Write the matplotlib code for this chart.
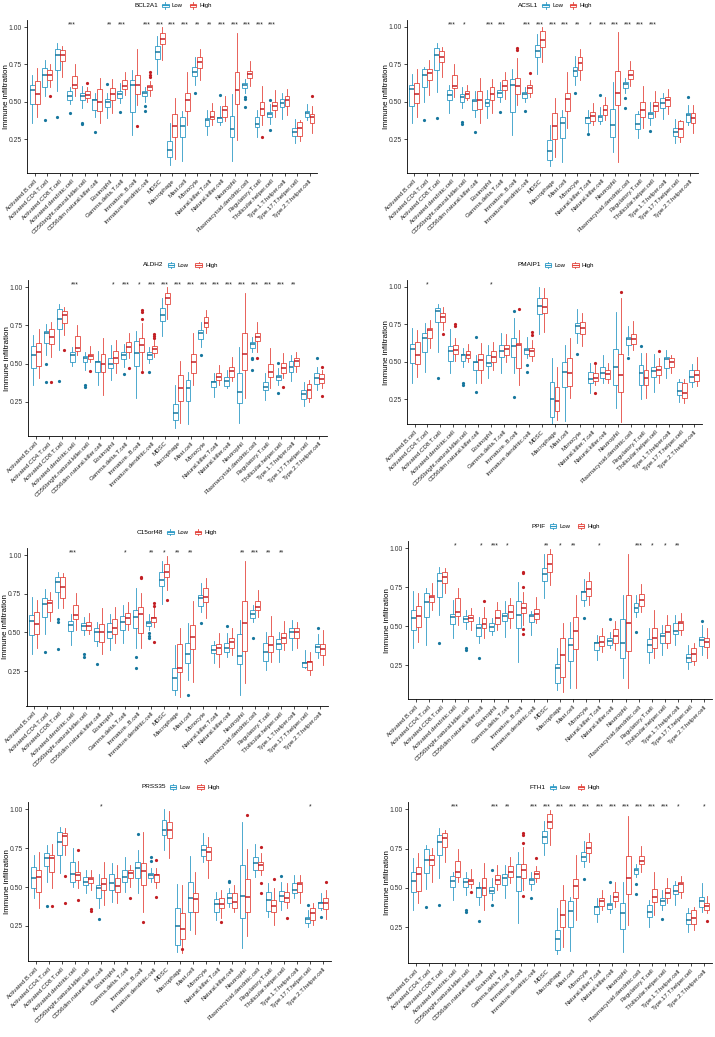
import numpy as np
import matplotlib
matplotlib.use("Agg")
import matplotlib.pyplot as plt
from matplotlib.patches import Rectangle
from matplotlib.lines import Line2D
from matplotlib.legend_handler import HandlerBase

plt.rcParams['font.family'] = ['Liberation Sans', 'DejaVu Sans']

CELLS = ["Activated.B.cell", "Activated.CD4.T.cell", "Activated.CD8.T.cell",
         "Activated.dendritic.cell", "CD56bright.natural.killer.cell",
         "CD56dim.natural.killer.cell", "Eosinophil", "Gamma.delta.T.cell",
         "Immature..B.cell", "Immature.dendritic.cell", "MDSC", "Macrophage",
         "Mast.cell", "Monocyte", "Natural.killer.T.cell", "Natural.killer.cell",
         "Neutrophil", "Plasmacytoid.dendritic.cell", "Regulatory.T.cell",
         "T.follicular.helper.cell", "Type.1.T.helper.cell",
         "Type.17.T.helper.cell", "Type.2.T.helper.cell"]

# box stats per cell: (whisker low, q1, median, q3, whisker high)
BCL2A1_LOW = [(0.357, 0.484, 0.58, 0.614, 0.68), (0.536, 0.598, 0.68, 0.725, 0.78),
              (0.57, 0.714, 0.81, 0.853, 0.89), (0.487, 0.513, 0.536, 0.57, 0.60),
              (0.458, 0.51, 0.536, 0.56, 0.607), (0.40, 0.446, 0.513, 0.518, 0.56),
              (0.39, 0.464, 0.498, 0.518, 0.558), (0.49, 0.525, 0.554, 0.57, 0.625),
              (0.28, 0.43, 0.61, 0.647, 0.714), (0.50, 0.536, 0.556, 0.57, 0.60),
              (0.687, 0.786, 0.833, 0.87, 0.94), (0.078, 0.127, 0.174, 0.234, 0.357),
              (0.10, 0.261, 0.34, 0.397, 0.435), (0.614, 0.674, 0.70, 0.73, 0.80),
              (0.28, 0.335, 0.38, 0.39, 0.446), (0.342, 0.364, 0.39, 0.40, 0.469),
              (0.10, 0.263, 0.317, 0.406, 0.554), (0.558, 0.59, 0.614, 0.625, 0.654),
              (0.261, 0.328, 0.35, 0.397, 0.446), (0.35, 0.397, 0.417, 0.43, 0.487),
              (0.386, 0.464, 0.49, 0.518, 0.56), (0.223, 0.272, 0.297, 0.324, 0.386),
              (0.375, 0.40, 0.424, 0.44, 0.485)]
BCL2A1_HIGH = [(0.40, 0.484, 0.554, 0.636, 0.725), (0.60, 0.647, 0.68, 0.71, 0.75),
               (0.665, 0.77, 0.81, 0.848, 0.87), (0.536, 0.59, 0.614, 0.674, 0.75),
               (0.50, 0.525, 0.547, 0.57, 0.60), (0.357, 0.44, 0.50, 0.585, 0.66),
               (0.424, 0.51, 0.554, 0.59, 0.654), (0.547, 0.585, 0.607, 0.643, 0.70),
               (0.475, 0.55, 0.61, 0.68, 0.853), (0.536, 0.58, 0.598, 0.614, 0.636),
               (0.78, 0.888, 0.92, 0.96, 1.0), (0.116, 0.261, 0.335, 0.42, 0.525),
               (0.346, 0.44, 0.513, 0.558, 0.70), (0.647, 0.725, 0.763, 0.80, 0.85),
               (0.346, 0.386, 0.40, 0.435, 0.49), (0.368, 0.40, 0.446, 0.473, 0.536),
               (0.245, 0.484, 0.58, 0.70, 0.96), (0.607, 0.658, 0.685, 0.708, 0.775),
               (0.345, 0.413, 0.45, 0.496, 0.607), (0.40, 0.446, 0.473, 0.50, 0.576),
               (0.41, 0.473, 0.513, 0.536, 0.585), (0.234, 0.268, 0.324, 0.362, 0.38),
               (0.29, 0.357, 0.395, 0.42, 0.469)]
BCL2A1_LOW_OUT = {1: [0.38], 2: [0.395], 3: [0.424], 4: [0.36, 0.35], 5: [0.297],
                  6: [0.62], 7: [0.43], 9: [0.47, 0.44], 13: [0.558], 15: [0.542],
                  17: [0.53, 0.52, 0.464], 19: [0.51, 0.308]}
BCL2A1_HIGH_OUT = {1: [0.54], 4: [0.625], 8: [0.34], 9: [0.696, 0.68, 0.665],
                   18: [0.263], 22: [0.536]}
BCL2A1_SIG = {3: "***", 6: "**", 7: "***", 9: "***", 10: "***", 11: "***", 12: "***",
              13: "**", 14: "**", 15: "***", 16: "***", 17: "***", 18: "***", 19: "***"}

ACSL1_LOW = [(0.357, 0.472, 0.583, 0.612, 0.685), (0.50, 0.596, 0.678, 0.716, 0.734),
             (0.567, 0.712, 0.81, 0.856, 0.89), (0.423, 0.512, 0.545, 0.578, 0.612),
             (0.456, 0.50, 0.534, 0.55, 0.596), (0.40, 0.445, 0.507, 0.516, 0.574),
             (0.39, 0.472, 0.49, 0.516, 0.578), (0.50, 0.534, 0.556, 0.578, 0.634),
             (0.279, 0.43, 0.612, 0.652, 0.716), (0.50, 0.527, 0.552, 0.567, 0.596),
             (0.685, 0.796, 0.838, 0.878, 0.95), (0.075, 0.112, 0.175, 0.245, 0.345),
             (0.10, 0.257, 0.357, 0.40, 0.445), (0.612, 0.672, 0.705, 0.734, 0.805),
             (0.30, 0.361, 0.39, 0.40, 0.445), (0.352, 0.374, 0.396, 0.412, 0.467),
             (0.168, 0.263, 0.345, 0.452, 0.634), (0.56, 0.594, 0.618, 0.63, 0.656),
             (0.257, 0.319, 0.352, 0.416, 0.439), (0.345, 0.394, 0.416, 0.434, 0.50),
             (0.385, 0.456, 0.49, 0.523, 0.56), (0.223, 0.272, 0.30, 0.323, 0.385),
             (0.345, 0.368, 0.412, 0.423, 0.479)]
ACSL1_HIGH = [(0.40, 0.49, 0.55, 0.627, 0.72), (0.545, 0.645, 0.694, 0.716, 0.778),
              (0.667, 0.767, 0.80, 0.838, 0.867), (0.534, 0.59, 0.605, 0.678, 0.75),
              (0.512, 0.527, 0.55, 0.572, 0.612), (0.361, 0.45, 0.512, 0.574, 0.66),
              (0.423, 0.512, 0.55, 0.60, 0.652), (0.518, 0.578, 0.605, 0.645, 0.70),
              (0.479, 0.55, 0.605, 0.656, 0.789), (0.534, 0.56, 0.59, 0.612, 0.645),
              (0.767, 0.862, 0.911, 0.971, 1.0), (0.13, 0.25, 0.339, 0.423, 0.523),
              (0.323, 0.439, 0.516, 0.556, 0.70), (0.645, 0.712, 0.76, 0.796, 0.849),
              (0.345, 0.374, 0.408, 0.434, 0.49), (0.379, 0.412, 0.445, 0.479, 0.534),
              (0.10, 0.479, 0.56, 0.705, 0.962), (0.605, 0.652, 0.678, 0.712, 0.774),
              (0.323, 0.396, 0.445, 0.496, 0.605), (0.40, 0.439, 0.472, 0.50, 0.574),
              (0.419, 0.472, 0.512, 0.53, 0.583), (0.234, 0.268, 0.317, 0.372, 0.379),
              (0.29, 0.361, 0.39, 0.423, 0.479)]
ACSL1_LOW_OUT = {1: [0.379], 2: [0.394], 4: [0.363, 0.352], 5: [0.297], 7: [0.43],
                 9: [0.44], 13: [0.556], 14: [0.283], 15: [0.545], 17: [0.527, 0.461],
                 19: [0.306], 22: [0.534]}
ACSL1_HIGH_OUT = {8: [0.856, 0.845], 9: [0.694]}
ACSL1_SIG = {3: "***", 4: "*", 6: "***", 7: "***", 9: "***", 10: "***", 11: "***",
             12: "***", 13: "**", 14: "*", 15: "***", 16: "***", 17: "***", 18: "***",
             19: "***"}

ALDH2_LOW = [(0.359, 0.473, 0.556, 0.617, 0.687), (0.556, 0.633, 0.698, 0.713, 0.757),
             (0.589, 0.727, 0.79, 0.858, 0.888), (0.484, 0.508, 0.556, 0.574, 0.611),
             (0.458, 0.508, 0.534, 0.552, 0.578), (0.359, 0.447, 0.508, 0.517, 0.582),
             (0.392, 0.469, 0.495, 0.534, 0.622), (0.48, 0.53, 0.556, 0.574, 0.626),
             (0.272, 0.484, 0.567, 0.65, 0.713), (0.501, 0.53, 0.556, 0.574, 0.611),
             (0.683, 0.779, 0.818, 0.867, 0.928), (0.075, 0.13, 0.173, 0.232, 0.359),
             (0.101, 0.257, 0.337, 0.392, 0.447), (0.611, 0.661, 0.698, 0.72, 0.775),
             (0.283, 0.344, 0.381, 0.388, 0.436), (0.337, 0.355, 0.386, 0.41, 0.458),
             (0.108, 0.239, 0.316, 0.436, 0.611), (0.578, 0.60, 0.626, 0.639, 0.676),
             (0.261, 0.326, 0.348, 0.381, 0.436), (0.359, 0.392, 0.41, 0.425, 0.469),
             (0.388, 0.447, 0.48, 0.517, 0.556), (0.224, 0.267, 0.298, 0.326, 0.381),
             (0.326, 0.364, 0.403, 0.436, 0.48)]
ALDH2_HIGH = [(0.403, 0.486, 0.574, 0.633, 0.727), (0.545, 0.628, 0.676, 0.727, 0.775),
              (0.687, 0.764, 0.818, 0.847, 0.873), (0.556, 0.582, 0.604, 0.681, 0.753),
              (0.512, 0.53, 0.55, 0.563, 0.617), (0.294, 0.442, 0.497, 0.56, 0.665),
              (0.436, 0.501, 0.539, 0.582, 0.654), (0.534, 0.578, 0.611, 0.639, 0.698),
              (0.458, 0.578, 0.622, 0.665, 0.764), (0.545, 0.571, 0.595, 0.615, 0.654),
              (0.792, 0.888, 0.932, 0.965, 1.0), (0.108, 0.257, 0.337, 0.425, 0.517),
              (0.359, 0.436, 0.512, 0.56, 0.698), (0.698, 0.742, 0.764, 0.803, 0.851),
              (0.359, 0.392, 0.414, 0.436, 0.49), (0.386, 0.414, 0.451, 0.48, 0.545),
              (0.272, 0.458, 0.56, 0.703, 0.965), (0.578, 0.648, 0.676, 0.703, 0.775),
              (0.337, 0.41, 0.447, 0.497, 0.604), (0.403, 0.436, 0.469, 0.501, 0.567),
              (0.447, 0.484, 0.519, 0.534, 0.578), (0.246, 0.272, 0.326, 0.364, 0.392),
              (0.337, 0.37, 0.399, 0.431, 0.458)]
ALDH2_LOW_OUT = {1: [0.495, 0.377], 2: [0.388], 4: [0.36, 0.348], 7: [0.431], 9: [0.442],
                 13: [0.556], 17: [0.534, 0.528, 0.458], 19: [0.501, 0.309], 22: [0.534]}
ALDH2_HIGH_OUT = {1: [0.377], 2: [0.587], 4: [0.453], 7: [0.469],
                  8: [0.851, 0.84, 0.79, 0.447], 9: [0.694, 0.683, 0.67], 17: [0.534],
                  19: [0.348], 22: [0.48, 0.289]}
ALDH2_SIG = {3: "***", 6: "*", 7: "***", 8: "*", 9: "***", 10: "***", 11: "***",
             12: "***", 13: "***", 14: "***", 15: "***", 16: "***", 17: "***",
             18: "***", 19: "***", 20: "**"}

PMAIP1_LOW = [(0.357, 0.49, 0.583, 0.616, 0.727), (0.434, 0.563, 0.66, 0.689, 0.756),
              (0.567, 0.767, 0.838, 0.856, 0.882), (0.423, 0.505, 0.572, 0.607, 0.718),
              (0.467, 0.505, 0.545, 0.55, 0.59), (0.357, 0.445, 0.496, 0.50, 0.545),
              (0.394, 0.472, 0.49, 0.545, 0.612), (0.423, 0.534, 0.572, 0.612, 0.689),
              (0.423, 0.534, 0.607, 0.656, 0.789), (0.523, 0.55, 0.578, 0.59, 0.667),
              (0.683, 0.816, 0.871, 0.927, 1.0), (0.079, 0.135, 0.252, 0.368, 0.523),
              (0.108, 0.334, 0.43, 0.496, 0.612), (0.623, 0.689, 0.738, 0.756, 0.851),
              (0.29, 0.361, 0.385, 0.434, 0.49), (0.357, 0.39, 0.423, 0.463, 0.545),
              (0.19, 0.345, 0.467, 0.583, 0.834), (0.545, 0.612, 0.649, 0.667, 0.738),
              (0.252, 0.345, 0.423, 0.479, 0.556), (0.301, 0.40, 0.439, 0.467, 0.55),
              (0.39, 0.456, 0.519, 0.534, 0.578), (0.234, 0.279, 0.306, 0.368, 0.385),
              (0.334, 0.368, 0.396, 0.445, 0.483)]
PMAIP1_HIGH = [(0.40, 0.483, 0.545, 0.629, 0.712), (0.59, 0.66, 0.712, 0.723, 0.778),
               (0.712, 0.767, 0.80, 0.822, 0.867), (0.505, 0.55, 0.578, 0.612, 0.656),
               (0.496, 0.523, 0.545, 0.572, 0.616), (0.357, 0.445, 0.512, 0.55, 0.623),
               (0.445, 0.50, 0.534, 0.574, 0.634), (0.50, 0.545, 0.585, 0.612, 0.685),
               (0.345, 0.456, 0.612, 0.623, 0.712), (0.505, 0.541, 0.572, 0.59, 0.645),
               (0.70, 0.822, 0.867, 0.922, 0.989), (0.112, 0.175, 0.241, 0.334, 0.467),
               (0.257, 0.341, 0.423, 0.527, 0.656), (0.607, 0.683, 0.723, 0.763, 0.822),
               (0.345, 0.372, 0.394, 0.423, 0.479), (0.357, 0.385, 0.416, 0.445, 0.49),
               (0.101, 0.301, 0.412, 0.55, 0.922), (0.578, 0.616, 0.649, 0.685, 0.771),
               (0.257, 0.345, 0.394, 0.445, 0.556), (0.357, 0.412, 0.445, 0.474, 0.523),
               (0.423, 0.463, 0.496, 0.523, 0.545), (0.223, 0.261, 0.294, 0.357, 0.385),
               (0.341, 0.372, 0.412, 0.445, 0.534)]
PMAIP1_LOW_OUT = {2: [0.39], 4: [0.361, 0.345], 5: [0.667, 0.297], 8: [0.838, 0.268],
                  9: [0.479, 0.434], 13: [0.552], 17: [0.523], 18: [0.607]}
PMAIP1_HIGH_OUT = {2: [0.685], 3: [0.751, 0.738], 8: [0.851], 9: [0.696, 0.678],
                   14: [0.49, 0.29], 16: [0.967], 19: [0.572]}
PMAIP1_SIG = {1: "*", 6: "*"}

C15ORF48_LOW = [(0.358, 0.48, 0.573, 0.612, 0.731), (0.489, 0.597, 0.681, 0.72, 0.78),
                (0.66, 0.759, 0.828, 0.856, 0.892), (0.418, 0.509, 0.547, 0.573, 0.616),
                (0.483, 0.515, 0.541, 0.558, 0.601), (0.412, 0.444, 0.50, 0.526, 0.569),
                (0.386, 0.461, 0.504, 0.558, 0.616), (0.429, 0.515, 0.569, 0.606, 0.677),
                (0.397, 0.526, 0.601, 0.644, 0.784), (0.515, 0.541, 0.562, 0.573, 0.616),
                (0.681, 0.802, 0.838, 0.892, 0.961), (0.095, 0.127, 0.207, 0.267, 0.418),
                (0.192, 0.30, 0.358, 0.429, 0.558), (0.634, 0.672, 0.72, 0.741, 0.817),
                (0.30, 0.364, 0.386, 0.418, 0.444), (0.343, 0.371, 0.397, 0.429, 0.494),
                (0.095, 0.293, 0.349, 0.487, 0.58), (0.565, 0.591, 0.619, 0.644, 0.677),
                (0.256, 0.315, 0.375, 0.429, 0.504), (0.31, 0.392, 0.425, 0.457, 0.504),
                (0.386, 0.461, 0.504, 0.526, 0.58), (0.267, 0.278, 0.30, 0.31, 0.386),
                (0.332, 0.371, 0.407, 0.422, 0.487)]
C15ORF48_HIGH = [(0.40, 0.487, 0.554, 0.629, 0.709), (0.573, 0.634, 0.688, 0.709, 0.763),
                 (0.66, 0.724, 0.795, 0.86, 0.881), (0.515, 0.586, 0.612, 0.677, 0.752),
                 (0.487, 0.515, 0.541, 0.569, 0.623), (0.358, 0.44, 0.504, 0.552, 0.66),
                 (0.429, 0.487, 0.526, 0.586, 0.666), (0.515, 0.554, 0.591, 0.623, 0.694),
                 (0.40, 0.494, 0.616, 0.666, 0.752), (0.537, 0.565, 0.591, 0.601, 0.666),
                 (0.774, 0.856, 0.892, 0.94, 0.996), (0.084, 0.241, 0.272, 0.422, 0.526),
                 (0.181, 0.392, 0.472, 0.547, 0.703), (0.591, 0.694, 0.731, 0.789, 0.849),
                 (0.278, 0.358, 0.397, 0.422, 0.494), (0.353, 0.397, 0.44, 0.461, 0.526),
                 (0.17, 0.379, 0.558, 0.703, 0.961), (0.601, 0.644, 0.666, 0.703, 0.774),
                 (0.31, 0.371, 0.418, 0.478, 0.608), (0.386, 0.429, 0.461, 0.494, 0.573),
                 (0.40, 0.461, 0.504, 0.526, 0.569), (0.224, 0.256, 0.306, 0.315, 0.375),
                 (0.289, 0.353, 0.39, 0.422, 0.515)]
C15ORF48_LOW_OUT = {1: [0.375], 2: [0.586, 0.565, 0.39], 4: [0.358, 0.343], 5: [0.293],
                    8: [0.338, 0.267], 9: [0.494, 0.478, 0.466], 12: [0.095],
                    13: [0.558], 15: [0.543], 17: [0.461], 22: [0.53]}
C15ORF48_HIGH_OUT = {8: [0.856, 0.849], 9: [0.688, 0.672, 0.44], 10: [0.709]}
C15ORF48_SIG = {3: "***", 7: "*", 9: "**", 10: "*", 11: "**", 12: "**", 16: "**",
                17: "***", 18: "**", 19: "**"}

PPIF_LOW = [(0.357, 0.475, 0.554, 0.604, 0.726), (0.379, 0.561, 0.657, 0.715, 0.743),
            (0.571, 0.689, 0.79, 0.839, 0.882), (0.421, 0.511, 0.561, 0.576, 0.668),
            (0.481, 0.524, 0.546, 0.565, 0.604), (0.389, 0.439, 0.49, 0.511, 0.561),
            (0.443, 0.469, 0.492, 0.518, 0.55), (0.432, 0.533, 0.567, 0.582, 0.661),
            (0.271, 0.486, 0.571, 0.661, 0.786), (0.443, 0.524, 0.567, 0.576, 0.597),
            (0.683, 0.792, 0.835, 0.876, 0.961), (0.089, 0.132, 0.232, 0.254, 0.361),
            (0.10, 0.276, 0.379, 0.426, 0.529), (0.631, 0.668, 0.717, 0.728, 0.803),
            (0.282, 0.346, 0.389, 0.40, 0.443), (0.357, 0.379, 0.404, 0.421, 0.464),
            (0.164, 0.297, 0.394, 0.546, 0.70), (0.561, 0.593, 0.619, 0.646, 0.70),
            (0.261, 0.336, 0.379, 0.417, 0.486), (0.314, 0.389, 0.439, 0.454, 0.507),
            (0.379, 0.447, 0.469, 0.518, 0.571), (0.224, 0.271, 0.297, 0.319, 0.379),
            (0.314, 0.374, 0.411, 0.432, 0.507)]
PPIF_HIGH = [(0.40, 0.496, 0.567, 0.631, 0.711), (0.604, 0.653, 0.689, 0.70, 0.775),
             (0.711, 0.775, 0.818, 0.85, 0.871), (0.507, 0.567, 0.593, 0.679, 0.747),
             (0.475, 0.533, 0.554, 0.571, 0.614), (0.421, 0.49, 0.511, 0.554, 0.625),
             (0.475, 0.511, 0.55, 0.604, 0.653), (0.486, 0.554, 0.589, 0.636, 0.679),
             (0.507, 0.582, 0.614, 0.646, 0.717), (0.518, 0.546, 0.576, 0.61, 0.689),
             (0.764, 0.85, 0.897, 0.961, 0.996), (0.079, 0.175, 0.314, 0.426, 0.518),
             (0.10, 0.351, 0.469, 0.561, 0.70), (0.636, 0.696, 0.739, 0.79, 0.85),
             (0.336, 0.374, 0.40, 0.439, 0.486), (0.346, 0.389, 0.439, 0.481, 0.533),
             (0.104, 0.34, 0.518, 0.70, 0.961), (0.593, 0.629, 0.668, 0.706, 0.769),
             (0.293, 0.357, 0.421, 0.486, 0.604), (0.361, 0.389, 0.46, 0.507, 0.571),
             (0.443, 0.475, 0.518, 0.533, 0.582), (0.25, 0.276, 0.319, 0.361, 0.389),
             (0.293, 0.368, 0.40, 0.421, 0.486)]
PPIF_LOW_OUT = {2: [0.394], 4: [0.357, 0.346], 5: [0.297], 13: [0.554], 15: [0.544],
                17: [0.46], 22: [0.533]}
PPIF_HIGH_OUT = {5: [0.661], 8: [0.85, 0.839, 0.754, 0.481, 0.447]}
PPIF_SIG = {3: "*", 5: "*", 6: "***", 7: "*", 10: "**", 11: "*", 12: "**", 14: "*",
            17: "***", 18: "*", 19: "*", 20: "**"}

PRSS35_LOW = [(0.428, 0.497, 0.556, 0.631, 0.706), (0.535, 0.638, 0.689, 0.717, 0.771),
              (0.589, 0.706, 0.792, 0.852, 0.889), (0.503, 0.531, 0.584, 0.659, 0.754),
              (0.46, 0.514, 0.535, 0.567, 0.61), (0.364, 0.428, 0.492, 0.514, 0.582),
              (0.406, 0.481, 0.524, 0.582, 0.653), (0.471, 0.531, 0.567, 0.61, 0.696),
              (0.46, 0.561, 0.621, 0.659, 0.739), (0.535, 0.556, 0.578, 0.589, 0.625),
              (0.739, 0.835, 0.867, 0.931, 1.0), (0.085, 0.128, 0.252, 0.364, 0.518),
              (0.224, 0.342, 0.428, 0.535, 0.70), (0.664, 0.70, 0.739, 0.771, 0.846),
              (0.289, 0.342, 0.389, 0.421, 0.471), (0.374, 0.396, 0.428, 0.46, 0.492),
              (0.106, 0.299, 0.445, 0.642, 0.921), (0.567, 0.61, 0.653, 0.696, 0.775),
              (0.31, 0.346, 0.417, 0.466, 0.524), (0.353, 0.411, 0.445, 0.475, 0.535),
              (0.432, 0.46, 0.481, 0.524, 0.578), (0.246, 0.267, 0.295, 0.31, 0.353),
              (0.353, 0.368, 0.396, 0.406, 0.46)]
PRSS35_HIGH = [(0.364, 0.471, 0.567, 0.61, 0.724), (0.492, 0.599, 0.685, 0.706, 0.775),
               (0.706, 0.771, 0.829, 0.846, 0.878), (0.496, 0.546, 0.578, 0.599, 0.668),
               (0.481, 0.524, 0.55, 0.567, 0.61), (0.385, 0.481, 0.518, 0.556, 0.664),
               (0.396, 0.471, 0.507, 0.556, 0.642), (0.503, 0.556, 0.589, 0.61, 0.642),
               (0.342, 0.514, 0.604, 0.653, 0.852), (0.492, 0.531, 0.578, 0.584, 0.621),
               (0.685, 0.814, 0.867, 0.921, 0.989), (0.074, 0.166, 0.231, 0.331, 0.514),
               (0.196, 0.342, 0.424, 0.46, 0.599), (0.556, 0.674, 0.728, 0.76, 0.824),
               (0.30, 0.368, 0.389, 0.428, 0.481), (0.338, 0.364, 0.406, 0.46, 0.514),
               (0.188, 0.338, 0.439, 0.552, 0.743), (0.578, 0.61, 0.642, 0.664, 0.717),
               (0.256, 0.338, 0.379, 0.417, 0.492), (0.364, 0.406, 0.432, 0.471, 0.524),
               (0.396, 0.466, 0.518, 0.531, 0.578), (0.256, 0.289, 0.336, 0.364, 0.396),
               (0.295, 0.359, 0.40, 0.428, 0.481)]
PRSS35_LOW_OUT = {1: [0.379], 5: [0.295], 8: [0.841], 9: [0.696, 0.668],
                  15: [0.539, 0.531], 19: [0.574], 21: [0.385], 22: [0.31]}
PRSS35_HIGH_OUT = {1: [0.379], 2: [0.571, 0.396], 3: [0.739, 0.417], 4: [0.359, 0.346],
                   7: [0.428], 8: [0.274], 9: [0.674, 0.434], 11: [0.102], 14: [0.278],
                   16: [0.964], 17: [0.76, 0.529, 0.464], 18: [0.55], 19: [0.304],
                   22: [0.535]}
PRSS35_SIG = {5: "*", 21: "*"}

FTH1_LOW = [(0.36, 0.472, 0.545, 0.60, 0.689), (0.492, 0.593, 0.678, 0.748, 0.773),
            (0.561, 0.71, 0.79, 0.837, 0.883), (0.424, 0.508, 0.545, 0.578, 0.604),
            (0.456, 0.508, 0.536, 0.561, 0.60), (0.392, 0.445, 0.498, 0.508, 0.54),
            (0.424, 0.466, 0.481, 0.508, 0.561), (0.434, 0.519, 0.561, 0.587, 0.646),
            (0.275, 0.481, 0.572, 0.65, 0.731), (0.487, 0.523, 0.551, 0.561, 0.604),
            (0.71, 0.784, 0.826, 0.862, 0.926), (0.078, 0.106, 0.174, 0.233, 0.371),
            (0.10, 0.254, 0.354, 0.417, 0.445), (0.636, 0.672, 0.699, 0.731, 0.799),
            (0.286, 0.333, 0.377, 0.386, 0.439), (0.339, 0.367, 0.392, 0.403, 0.456),
            (0.095, 0.239, 0.343, 0.407, 0.536), (0.572, 0.587, 0.614, 0.625, 0.65),
            (0.254, 0.318, 0.35, 0.392, 0.424), (0.36, 0.392, 0.417, 0.434, 0.487),
            (0.392, 0.46, 0.481, 0.519, 0.544), (0.222, 0.271, 0.297, 0.339, 0.371),
            (0.35, 0.381, 0.419, 0.445, 0.53)]
FTH1_HIGH = [(0.403, 0.483, 0.589, 0.636, 0.72), (0.536, 0.646, 0.678, 0.71, 0.752),
             (0.663, 0.763, 0.82, 0.847, 0.869), (0.536, 0.572, 0.604, 0.672, 0.748),
             (0.498, 0.523, 0.545, 0.557, 0.621), (0.36, 0.456, 0.498, 0.561, 0.657),
             (0.487, 0.523, 0.551, 0.583, 0.646), (0.53, 0.572, 0.604, 0.642, 0.699),
             (0.487, 0.561, 0.614, 0.65, 0.763), (0.54, 0.561, 0.587, 0.608, 0.642),
             (0.773, 0.883, 0.922, 0.968, 0.996), (0.127, 0.254, 0.328, 0.424, 0.519),
             (0.297, 0.434, 0.513, 0.555, 0.71), (0.663, 0.72, 0.752, 0.794, 0.847),
             (0.36, 0.386, 0.417, 0.439, 0.487), (0.381, 0.417, 0.445, 0.477, 0.54),
             (0.265, 0.46, 0.561, 0.703, 0.958), (0.604, 0.65, 0.672, 0.703, 0.769),
             (0.328, 0.413, 0.445, 0.492, 0.60), (0.407, 0.439, 0.466, 0.498, 0.566),
             (0.434, 0.472, 0.523, 0.536, 0.578), (0.233, 0.269, 0.307, 0.36, 0.381),
             (0.339, 0.36, 0.386, 0.403, 0.451)]
FTH1_LOW_OUT = {1: [0.377], 2: [0.392], 4: [0.36, 0.35], 5: [0.292], 6: [0.614, 0.392],
                9: [0.434], 13: [0.555], 15: [0.54], 17: [0.523, 0.462], 19: [0.303]}
FTH1_HIGH_OUT = {4: [0.472], 8: [0.847, 0.837, 0.784, 0.451], 9: [0.689], 22: [0.292]}
FTH1_SIG = {3: "***", 6: "***", 7: "**", 9: "***", 10: "***", 11: "***", 12: "***",
            13: "***", 14: "***", 15: "***", 16: "***", 17: "***", 18: "***",
            19: "***", 20: "*", 22: "*"}

GROUPS = ["Low", "High"]
LOW_COLOR = "#2f9bc6"
LOW_DARK = "#17779e"
HIGH_COLOR = "#e4473f"
HIGH_DARK = "#c21f24"

W, H = 715, 1037

# gene, data, and where the panel sits (pixels): left, right, y of 1.00, y of 0.25, bottom, legend y
PANELS = [
    ("BCL2A1", BCL2A1_LOW, BCL2A1_HIGH, BCL2A1_LOW_OUT, BCL2A1_HIGH_OUT, BCL2A1_SIG,
     (27.3, 317, 27, 139, 173, 5.5)),
    ("ACSL1", ACSL1_LOW, ACSL1_HIGH, ACSL1_LOW_OUT, ACSL1_HIGH_OUT, ACSL1_SIG,
     (406.7, 698, 26.7, 139.3, 173, 5.5)),
    ("ALDH2", ALDH2_LOW, ALDH2_HIGH, ALDH2_LOW_OUT, ALDH2_HIGH_OUT, ALDH2_SIG,
     (28.3, 327, 287.3, 401.7, 435.7, 265)),
    ("PMAIP1", PMAIP1_LOW, PMAIP1_HIGH, PMAIP1_LOW_OUT, PMAIP1_HIGH_OUT, PMAIP1_SIG,
     (407, 702, 286.7, 399.3, 424.3, 265)),
    ("C15orf48", C15ORF48_LOW, C15ORF48_HIGH, C15ORF48_LOW_OUT, C15ORF48_HIGH_OUT,
     C15ORF48_SIG, (26.5, 328, 555, 671, 705.7, 532.3)),
    ("PPIF", PPIF_LOW, PPIF_HIGH, PPIF_LOW_OUT, PPIF_HIGH_OUT, PPIF_SIG,
     (408, 712, 548.3, 665, 699.3, 526)),
    ("PRSS35", PRSS35_LOW, PRSS35_HIGH, PRSS35_LOW_OUT, PRSS35_HIGH_OUT, PRSS35_SIG,
     (28.3, 331, 809.3, 926, 961.3, 787)),
    ("FTH1", FTH1_LOW, FTH1_HIGH, FTH1_LOW_OUT, FTH1_HIGH_OUT, FTH1_SIG,
     (408, 712, 809.3, 927.3, 963, 787.3)),
]


class BoxKey(HandlerBase):
    ##small boxplot glyph like the ggplot legend key
    def create_artists(self, legend, orig_handle, xdescent, ydescent, width, height,
                       fontsize, trans):
        c = orig_handle.get_edgecolor()
        x0, y0 = -xdescent, -ydescent
        rect = Rectangle((x0 + 0.12 * width, y0 + 0.22 * height), 0.76 * width,
                         0.56 * height, facecolor="white", edgecolor=c, lw=0.6,
                         transform=trans)
        med = Line2D([x0 + 0.12 * width, x0 + 0.88 * width], [y0 + 0.5 * height] * 2,
                     color=c, lw=0.8, transform=trans)
        w1 = Line2D([x0 + 0.5 * width] * 2, [y0 - 0.05 * height, y0 + 0.22 * height],
                    color=c, lw=0.6, transform=trans)
        w2 = Line2D([x0 + 0.5 * width] * 2, [y0 + 0.78 * height, y0 + 1.05 * height],
                    color=c, lw=0.6, transform=trans)
        return [rect, w1, w2, med]


def box_stats(rows, outliers):
    stats = []
    for i, (wlo, q1, med, q3, whi) in enumerate(rows):
        stats.append(dict(whislo=wlo, q1=q1, med=med, q3=q3, whishi=whi,
                          fliers=outliers.get(i, [])))
    return stats


def draw_group(ax, stats, pos, color, dark):
    ax.bxp(stats, positions=pos, widths=0.38, showcaps=False, patch_artist=True,
           boxprops=dict(facecolor="white", edgecolor=color, lw=0.6),
           whiskerprops=dict(color=color, lw=0.6),
           medianprops=dict(color=dark, lw=1.1),
           flierprops=dict(marker="o", markerfacecolor=dark, markeredgecolor="none",
                           markersize=2.3))


fig = plt.figure(figsize=(W / 100, H / 100), dpi=100)
y_top = 1.045
x = np.arange(len(CELLS))

for gene, low, high, low_out, high_out, sig, box in PANELS:
    left, right, y100, y025, bottom, leg_y = box
    ppu = (y025 - y100) / 0.75
    top_px = y100 - (y_top - 1.0) * ppu
    y_bot = 0.25 - (bottom - y025) / ppu
    ax = fig.add_axes([left / W, 1 - bottom / H, (right - left) / W, (bottom - top_px) / H])

    draw_group(ax, box_stats(low, low_out), x - 0.2, LOW_COLOR, LOW_DARK)
    draw_group(ax, box_stats(high, high_out), x + 0.2, HIGH_COLOR, HIGH_DARK)

    for i, lab in sig.items():
        ax.text(i, 1.004, lab, ha="center", va="baseline", fontsize=4.8, color="#222222")

    ax.set_xlim(-0.6, len(CELLS) - 0.4)
    ax.set_ylim(y_bot, y_top)
    ax.set_xticks(x)
    ax.set_xticklabels(CELLS, rotation=45, ha="right", rotation_mode="anchor",
                       fontsize=4.4, color="#222222")
    ax.set_yticks([0.25, 0.5, 0.75, 1.0])
    ax.set_yticklabels(["0.25", "0.50", "0.75", "1.00"], fontsize=4.9, color="#333333")
    ax.tick_params(length=2.2, width=0.5, pad=1.5)
    for s in ["top", "right"]:
        ax.spines[s].set_visible(False)
    for s in ["left", "bottom"]:
        ax.spines[s].set_linewidth(0.6)
    ax.set_ylabel("Immune infiltration", fontsize=5.8)
    ax.yaxis.set_label_coords(-17 / (right - left), 0.5)

    cx = (left + right) / 2
    fig.text((cx - 14) / W, 1 - leg_y / H, gene, ha="right", va="center", fontsize=4.6)
    handles = [Rectangle((0, 0), 1, 1, edgecolor=LOW_COLOR),
               Rectangle((0, 0), 1, 1, edgecolor=HIGH_COLOR)]
    fig.legend(handles, GROUPS, loc="center left",
               bbox_to_anchor=((cx - 11) / W, 1 - leg_y / H), ncol=2, frameon=False,
               fontsize=4.3, handlelength=1.4, handleheight=1.1, handletextpad=0.4,
               columnspacing=1.0, borderpad=0, borderaxespad=0,
               handler_map={Rectangle: BoxKey()})

fig.savefig("out.png", dpi=100)
plt.close(fig)
